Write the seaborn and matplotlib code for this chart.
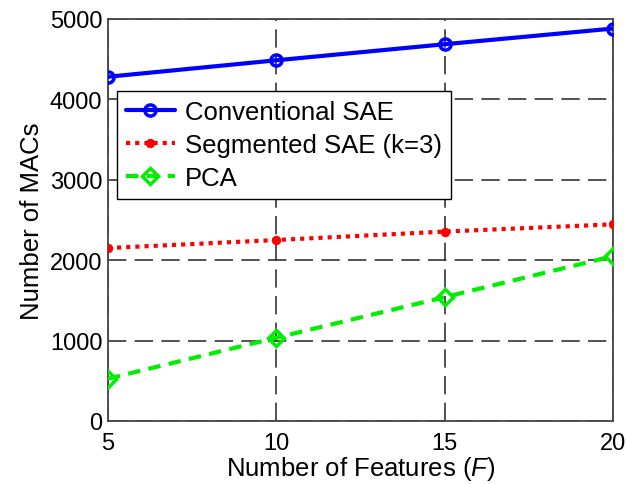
import pandas as pd
import seaborn as sns
import matplotlib
matplotlib.use("Agg")
import matplotlib.pyplot as plt

# data
features = [5, 10, 15, 20]
conv_sae = [4280, 4485, 4685, 4880]
seg_sae = [2150, 2250, 2355, 2445]
pca = [525, 1035, 1540, 2050]

sns.set_style("white")
plt.rcParams['font.family'] = ['Liberation Sans', 'DejaVu Sans']
plt.rcParams['mathtext.fontset'] = 'custom'
plt.rcParams['mathtext.it'] = 'Liberation Sans:italic'
plt.rcParams['mathtext.rm'] = 'Liberation Sans'
plt.rcParams['text.color'] = 'black'
plt.rcParams['axes.labelcolor'] = 'black'

fig = plt.figure(figsize=(6.27, 4.85), dpi=100)
ax = fig.add_axes([0.172, 0.130, 0.806, 0.829])

sns.lineplot(x=features, y=conv_sae, ax=ax, color='#0000ff', lw=3,
             marker='o', markersize=8, markerfacecolor='none',
             markeredgecolor='#0000ff', markeredgewidth=2.5,
             label='Conventional SAE', zorder=5)
sns.lineplot(x=features, y=seg_sae, ax=ax, color='#ff0000', lw=3,
             linestyle=(0, (1, 1.2)), marker='o', markersize=6,
             markeredgecolor='#ff0000', label='Segmented SAE (k=3)', zorder=5)
sns.lineplot(x=features, y=pca, ax=ax, color='#00ee00', lw=3,
             linestyle=(0, (3, 2)), marker='D', markersize=8,
             markerfacecolor='none', markeredgecolor='#00ee00',
             markeredgewidth=2.5, label='PCA', zorder=5)

ax.set_xlim(5, 20)
ax.set_ylim(0, 5000)
ax.set_xticks([5, 10, 15, 20])
ax.set_yticks([0, 1000, 2000, 3000, 4000, 5000])
ax.grid(True, color='#333333', linestyle=(0, (11, 5)), linewidth=1.2)
ax.set_axisbelow(True)
for s in ax.spines.values():
    s.set_color('#444444')
    s.set_linewidth(1.3)
ax.tick_params(direction='in', length=5, width=1, colors='#444444',
               labelcolor='black', labelsize=17, pad=4)
ax.tick_params(axis='x', pad=8)

ax.set_xlabel('Number of Features ($\\it{F}$)', fontsize=18.5, labelpad=0)
ax.set_ylabel('Number of MACs', fontsize=18.5, labelpad=4)

leg = ax.legend(loc='upper left', bbox_to_anchor=(0.018, 0.821), borderaxespad=0,
                fontsize=18.5, frameon=True, fancybox=False, handlelength=1.9,
                handletextpad=0.4, labelspacing=0.35, borderpad=0.35)
leg.get_frame().set_edgecolor('black')
leg.get_frame().set_linewidth(1.0)
leg.get_frame().set_alpha(1)
leg.set_zorder(10)

fig.savefig('out.png', dpi=100)
